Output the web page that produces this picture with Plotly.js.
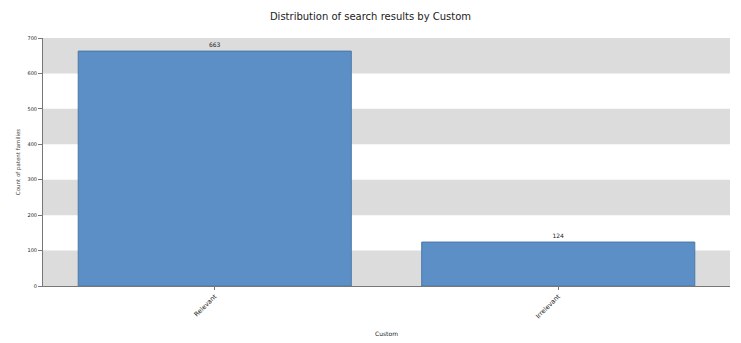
<!DOCTYPE html>
<html><head><meta charset="utf-8">
<script src="https://cdn.plot.ly/plotly-3.0.1.min.js"></script>
<style>html,body{margin:0;padding:0;background:#fff}</style>
</head><body>
<div id="chart" style="width:741px;height:343px"></div>
<script>
const categories = ["Relevant", "Irrelevant"];
const counts = [663, 124];
const bandStarts = [0, 200, 400, 600];
const bandSize = 100;
const yTicks = [0, 100, 200, 300, 400, 500, 600, 700];

const shapes = bandStarts.map(b => ({
  type: 'rect', xref: 'paper', yref: 'y', x0: 0, x1: 1, y0: b, y1: b + bandSize,
  fillcolor: '#dcdcdc', line: {width: 0}, layer: 'below'
}));

Plotly.newPlot('chart', [{
  type: 'bar', x: categories, y: counts, width: 0.795,
  marker: {color: '#5b8fc5', line: {color: '#4a78a8', width: 1}},
  text: counts.map(String), textposition: 'outside',
  textfont: {family: 'DejaVu Sans', size: 6, color: '#222'},
  cliponaxis: false
}], {
  width: 741, height: 343,
  margin: {l: 43, r: 11, t: 38, b: 57},
  paper_bgcolor: '#fff', plot_bgcolor: '#fff',
  title: {text: 'Distribution of search results by Custom', x: 0.5, y: 0.962,
    font: {family: 'DejaVu Sans', size: 10, color: '#222'}},
  shapes: shapes,
  xaxis: {
    tickangle: -45, tickfont: {family: 'DejaVu Sans', size: 6.5, color: '#222'},
    showline: true, linecolor: '#777', linewidth: 1, ticks: 'outside', ticklen: 3, tickcolor: '#777',
    title: {text: 'Custom', font: {family: 'DejaVu Sans', size: 6, color: '#222'}, standoff: 12},
    showgrid: false
  },
  yaxis: {
    range: [0, 700], tickvals: yTicks, showgrid: false, zeroline: false,
    tickfont: {family: 'DejaVu Sans', size: 5, color: '#222'},
    showline: true, linecolor: '#777', linewidth: 1, ticks: 'outside', ticklen: 4, tickcolor: '#777',
    title: {text: 'Count of patent families', font: {family: 'DejaVu Sans', size: 5.5, color: '#444'}, standoff: 6}
  },
  showlegend: false
}, {displayModeBar: false, staticPlot: true});
</script>
</body></html>
